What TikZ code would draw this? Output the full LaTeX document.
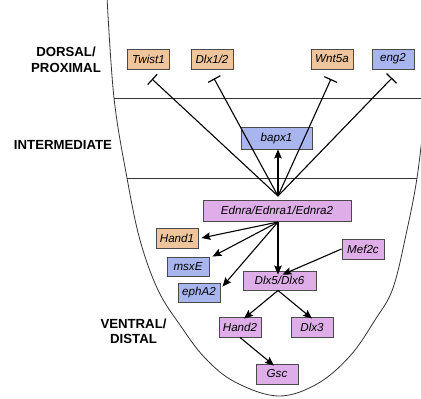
\documentclass[tikz,border=0pt]{standalone}
\usepackage{fontspec}
\setmainfont{Liberation Sans}
\usetikzlibrary{arrows.meta,calc}
\definecolor{cOr}{HTML}{EFC59C}
\definecolor{cBl}{HTML}{A8B5EE}
\definecolor{cPu}{HTML}{DFAEE8}
\definecolor{cBd}{HTML}{4A4A4A}
\begin{document}
\begin{tikzpicture}[x=1pt,y=-1pt,
  gene/.style={draw=cBd,line width=0.9pt,inner sep=0pt,minimum height=20pt,minimum width=42pt,font=\fontsize{11.6}{13}\selectfont\itshape},
  gor/.style={gene,fill=cOr},
  gbl/.style={gene,fill=cBl},
  gpu/.style={gene,fill=cPu},
  zone/.style={font=\fontsize{13.2}{15.5}\selectfont\bfseries,align=center,inner sep=0pt},
  arr/.style={line width=1.1pt,-{Stealth[length=9pt,width=7.5pt,inset=1.5pt]}},
  inh/.style={line width=1.1pt,-{Bar[width=14pt,line width=1.2pt]}},
  frame/.style={line width=0.8pt,draw=black!80}]
\useasboundingbox (0,0) rectangle (421,399);
% outline
\draw[frame] plot[smooth,tension=0.6] coordinates {(107,-3) (114,98) (127,178) (140,240) (158,290) (180,325) (205,358) (235,382) (278,396) (317,384) (350,356) (375,320) (393,288) (407,230) (417,178) (424,120)};
\draw[frame] (114,98) -- (421,98);
\draw[frame] (127,178) -- (417,178);
% zone labels
\node[zone] (lz1) at (66,60) {DORSAL/\\PROXIMAL};
\node[zone] (lz2) at (63,144.5) {INTERMEDIATE};
\node[zone] (lz3) at (133.5,331.5) {VENTRAL/\\DISTAL};
% genes
\node[gor] (tw) at (148.5,59) {Twist1};
\node[gor] (dl12) at (212,59) {Dlx1/2};
\node[gor] (wn) at (332,59) {Wnt5a};
\node[gbl] (en) at (393,59) {eng2};
\node[gbl,minimum width=71pt,minimum height=22pt] (bp) at (276.5,138) {bapx1};
\node[gpu,minimum width=148pt,minimum height=21pt] (ed) at (277,210.5) {Ednra/Ednra1/Ednra2};
\node[gor] (h1) at (177,238) {Hand1};
\node[gbl,minimum height=19pt] (ms) at (188,266.5) {msxE};
\node[gbl,minimum height=19pt] (ep) at (199,292.5) {ephA2};
\node[gpu] (mf) at (363,249) {Mef2c};
\node[gpu,minimum width=73pt,minimum height=19pt] (d56) at (279.5,280.5) {Dlx5/Dlx6};
\node[gpu] (h2) at (240,327) {Hand2};
\node[gpu] (d3) at (312,327) {Dlx3};
\node[gpu] (gs) at (277,374) {Gsc};
% hub and inhibition ends
\coordinate (hub) at (278,196);
\coordinate (twE) at (152,79);
\coordinate (dlE) at (214,78.5);
\coordinate (wnE) at (331,79);
\coordinate (enE) at (392,78);
\draw[inh] (hub) -- (twE);
\draw[inh] (hub) -- (dlE);
\draw[inh] (hub) -- (wnE);
\draw[inh] (hub) -- (enE);
\draw[arr] (hub) -- (hub |- bp.south);
% Ednra targets
\coordinate (eo) at (278,222);
\draw[arr] (eo) -- ([xshift=3pt]h1.east);
\draw[arr] (eo) -- ([shift={(3pt,0pt)}]ms.north east);
\draw[arr] (eo) -- ([shift={(2pt,-4pt)}]ep.north east);
\draw[arr] (eo) -- ([yshift=-4pt]d56.north -| eo);
\draw[arr] (mf.west) -- ([shift={(3pt,-4pt)}]d56.north);
% Dlx5/6 targets
\draw[arr] (d56.south -| eo) -- ([shift={(4pt,-2pt)}]h2.north);
\draw[arr] (d56.south -| eo) -- ([yshift=-2pt]d3.north);
\draw[arr] ([xshift=0pt]h2.south) -- ([shift={(-3pt,-2pt)}]gs.north);
\end{tikzpicture}
\end{document}
